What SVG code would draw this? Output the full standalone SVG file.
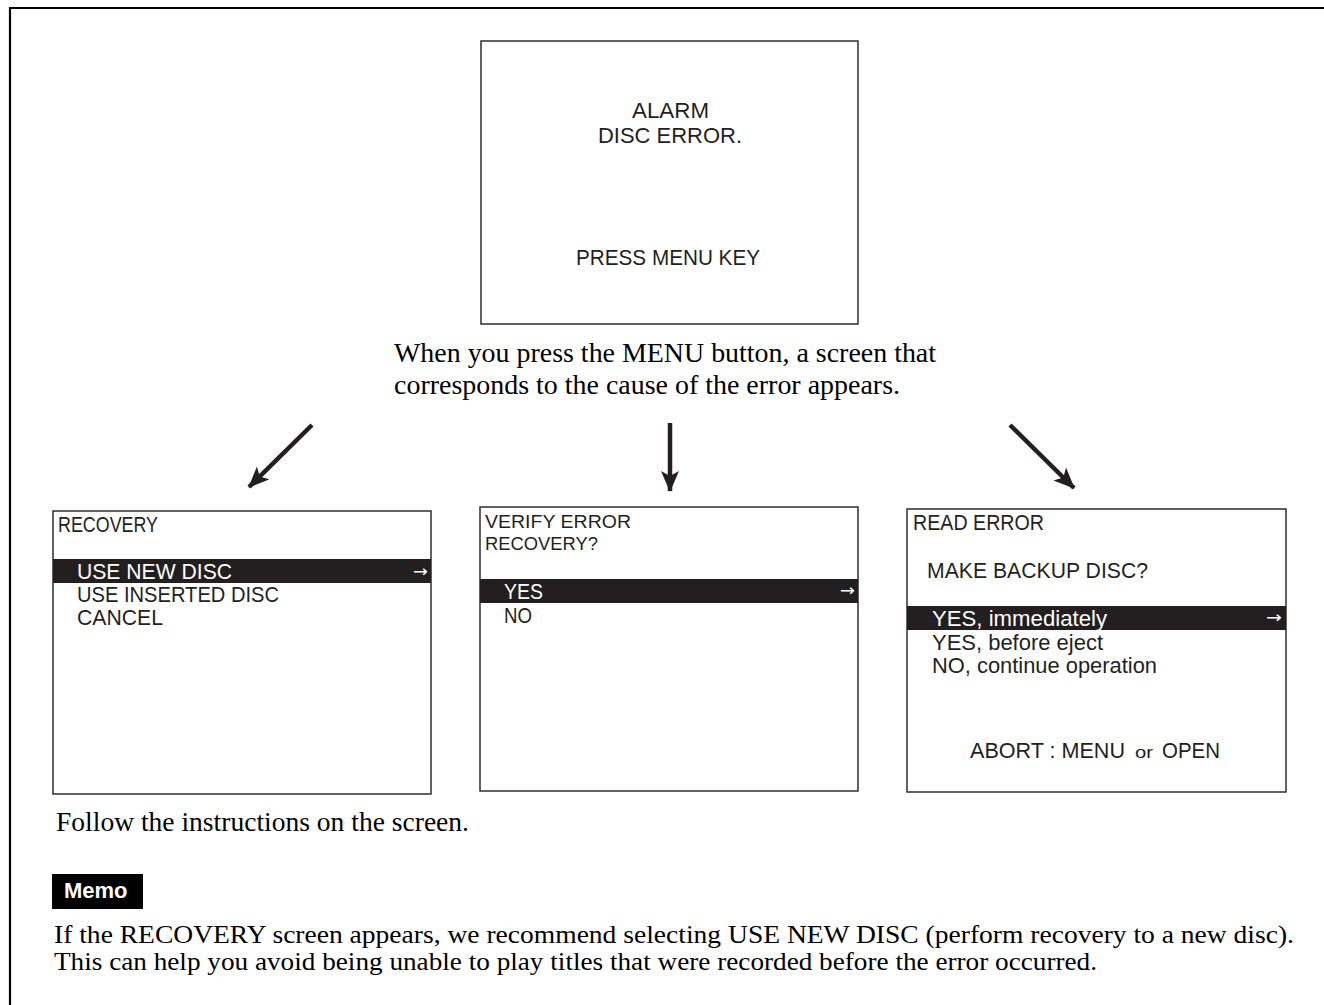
<svg xmlns="http://www.w3.org/2000/svg" width="1324" height="1005" viewBox="0 0 1324 1005">
<style>
.scr{fill:#fff;stroke:#231f20;stroke-width:1.4}
.bar{fill:#231f20}
.st{font-family:"Liberation Sans",Arial,sans-serif;font-size:22px;fill:#231f20}
.sm{font-size:19px}
.tiny{font-size:17px}
.inv{fill:#fff}
.ar{font-family:"DejaVu Sans",sans-serif;font-size:16px;fill:#fff}
.body{font-family:"Liberation Serif","Times New Roman",serif;font-size:28px;fill:#000}
.memo{font-family:"Liberation Serif","Times New Roman",serif;font-size:24.5px;fill:#000}
.conn{stroke:#231f20;stroke-width:4.5;fill:none}
</style>
<defs>
<marker id="ah" markerUnits="userSpaceOnUse" markerWidth="24" markerHeight="20" refX="20" refY="9" orient="auto">
<path d="M0,0 L21,9 L0,18 L5,9 Z" fill="#231f20"/>
</marker>
</defs>
<rect width="1324" height="1005" fill="#fff"/>
<path d="M10,1005 V8 H1324" fill="none" stroke="#000" stroke-width="2.2"/>

<g id="alarm-screen">
<rect class="scr" x="481" y="41" width="377" height="283"/>
<text class="st" x="632" y="118" textLength="77" lengthAdjust="spacingAndGlyphs">ALARM</text>
<text class="st" x="598" y="143" textLength="144" lengthAdjust="spacingAndGlyphs">DISC ERROR.</text>
<text class="st" x="576" y="265" textLength="184" lengthAdjust="spacingAndGlyphs">PRESS MENU KEY</text>
</g>

<g id="caption-top">
<text class="body" x="394" y="362" textLength="542" lengthAdjust="spacingAndGlyphs">When you press the MENU button, a screen that</text>
<text class="body" x="394" y="394" textLength="506" lengthAdjust="spacingAndGlyphs">corresponds to the cause of the error appears.</text>
</g>

<g id="connectors">
<line class="conn" x1="312" y1="425" x2="249" y2="487" marker-end="url(#ah)"/>
<line class="conn" x1="670" y1="423" x2="670" y2="491" marker-end="url(#ah)"/>
<line class="conn" x1="1010" y1="425" x2="1074" y2="488" marker-end="url(#ah)"/>
</g>

<g id="recovery-screen">
<rect class="scr" x="53" y="511" width="378" height="283"/>
<text class="st" x="58" y="532" textLength="100" lengthAdjust="spacingAndGlyphs">RECOVERY</text>
<rect class="bar" x="53" y="559" width="378" height="24"/>
<text class="st inv" x="77" y="579" textLength="155" lengthAdjust="spacingAndGlyphs">USE NEW DISC</text>
<text class="ar" x="413" y="577" textLength="15" lengthAdjust="spacingAndGlyphs">→</text>
<text class="st" x="77" y="602" textLength="202" lengthAdjust="spacingAndGlyphs">USE INSERTED DISC</text>
<text class="st" x="77" y="625" textLength="86" lengthAdjust="spacingAndGlyphs">CANCEL</text>
</g>

<g id="verify-screen">
<rect class="scr" x="480" y="507" width="378" height="284"/>
<text class="st sm" x="485" y="528" textLength="146" lengthAdjust="spacingAndGlyphs">VERIFY ERROR</text>
<text class="st sm" x="485" y="550" textLength="113" lengthAdjust="spacingAndGlyphs">RECOVERY?</text>
<rect class="bar" x="480" y="579" width="378" height="24"/>
<text class="st inv" x="504" y="599" textLength="39" lengthAdjust="spacingAndGlyphs">YES</text>
<text class="ar" x="840" y="596" textLength="15" lengthAdjust="spacingAndGlyphs">→</text>
<text class="st" x="504" y="623" textLength="28" lengthAdjust="spacingAndGlyphs">NO</text>
</g>

<g id="read-screen">
<rect class="scr" x="907" y="509" width="379" height="283"/>
<text class="st" x="913" y="530" textLength="131" lengthAdjust="spacingAndGlyphs">READ ERROR</text>
<text class="st" x="927" y="578" textLength="221" lengthAdjust="spacingAndGlyphs">MAKE BACKUP DISC?</text>
<rect class="bar" x="907" y="606" width="379" height="24"/>
<text class="st inv" x="932" y="626" textLength="175" lengthAdjust="spacingAndGlyphs">YES, immediately</text>
<text class="ar" x="1266" y="623" textLength="16" lengthAdjust="spacingAndGlyphs">→</text>
<text class="st" x="932" y="650" textLength="171" lengthAdjust="spacingAndGlyphs">YES, before eject</text>
<text class="st" x="932" y="673" textLength="225" lengthAdjust="spacingAndGlyphs">NO, continue operation</text>
<text class="st" x="970" y="758" textLength="155" lengthAdjust="spacingAndGlyphs">ABORT : MENU</text>
<text class="st tiny" x="1135" y="758" textLength="18" lengthAdjust="spacingAndGlyphs">or</text>
<text class="st" x="1162" y="758" textLength="58" lengthAdjust="spacingAndGlyphs">OPEN</text>
</g>

<g id="follow-text">
<text class="body" x="56" y="831" style="font-size:27.5px" textLength="413" lengthAdjust="spacingAndGlyphs">Follow the instructions on the screen.</text>
</g>

<g id="memo">
<rect x="52" y="874" width="91" height="35" fill="#000"/>
<text x="64" y="898" font-family="Liberation Sans,Arial,sans-serif" font-weight="bold" font-size="22px" fill="#fff">Memo</text>
<text class="memo" x="54" y="943" textLength="1240" lengthAdjust="spacingAndGlyphs">If the RECOVERY screen appears, we recommend selecting USE NEW DISC (perform recovery to a new disc).</text>
<text class="memo" x="54" y="970" textLength="1043" lengthAdjust="spacingAndGlyphs">This can help you avoid being unable to play titles that were recorded before the error occurred.</text>
</g>
</svg>
